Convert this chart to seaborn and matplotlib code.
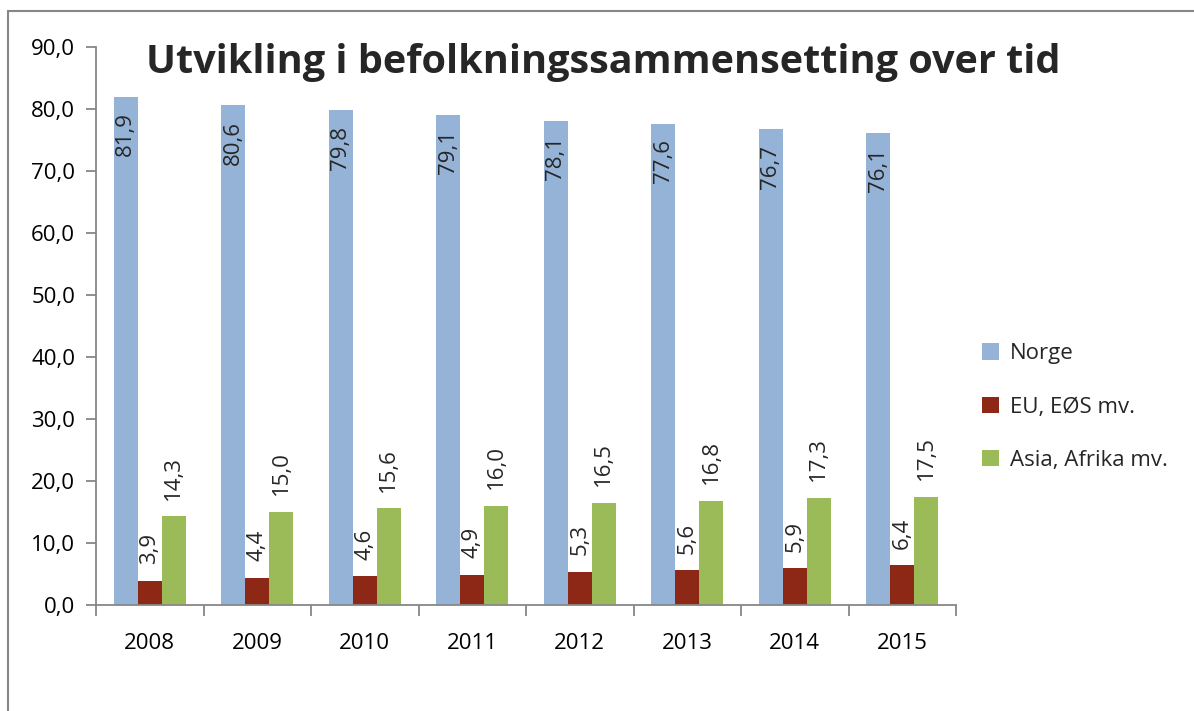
import pandas as pd
import matplotlib
matplotlib.use('Agg')
import matplotlib.pyplot as plt
import seaborn as sns
from matplotlib.lines import Line2D
from matplotlib.ticker import FuncFormatter, FixedLocator

# Data
YEARS = ['2008', '2009', '2010', '2011', '2012', '2013', '2014', '2015']
NORGE = [81.9, 80.6, 79.8, 79.1, 78.1, 77.6, 76.7, 76.1]
EU_EOS = [3.9, 4.4, 4.6, 4.9, 5.3, 5.6, 5.9, 6.4]
ASIA_AFRIKA = [14.3, 15.0, 15.6, 16.0, 16.5, 16.8, 17.3, 17.5]
SERIES = ['Norge', 'EU, EØS mv.', 'Asia, Afrika mv.']
TITLE = 'Utvikling i befolkningssammensetting over tid'

COLOR_PALETTE = {
    'Norge': '#95B3D7',
    'EU, EØS mv.': '#8E2816',
    'Asia, Afrika mv.': '#9BBB59',
}

W, H = 1194, 711
FONT_FAMILY = ['Open Sans', 'DejaVu Sans']
TICK_FONTSIZE = 16
LABEL_FONTSIZE = 16
LEGEND_FONTSIZE = 16
TITLE_FONTSIZE = 28.5
GRAY = '#878787'

sns.set_theme(style='white')
plt.rcParams['font.family'] = FONT_FAMILY


def fmt_num(v):
    return f'{v:.1f}'.replace('.', ',')


df = pd.DataFrame({
    'År': YEARS * 3,
    'Andel': NORGE + EU_EOS + ASIA_AFRIKA,
    'Gruppe': [s for s in SERIES for _ in YEARS],
})

fig = plt.figure(figsize=(W / 100, H / 100), dpi=100)
ax = fig.add_axes([96 / W, (H - 605) / H, (956 - 96) / W, (605 - 47) / H])

sns.barplot(data=df, x='År', y='Andel', hue='Gruppe', hue_order=SERIES,
            palette=COLOR_PALETTE, width=0.67, gap=0, saturation=1,
            edgecolor='none', ax=ax)

ax.set_ylim(0, 90)
ax.set_xlim(-0.5, len(YEARS) - 0.5)
ax.set_yticks(range(0, 91, 10))
ax.yaxis.set_major_formatter(FuncFormatter(lambda v, p: fmt_num(v)))
ax.set_xlabel('')
ax.set_ylabel('')

for side in ['top', 'right']:
    ax.spines[side].set_visible(False)
for side in ['left', 'bottom']:
    ax.spines[side].set_color(GRAY)
    ax.spines[side].set_linewidth(1.3)

ax.tick_params(axis='y', direction='out', length=7, width=1.3, color=GRAY,
               left=True, labelsize=TICK_FONTSIZE, pad=8, labelcolor='black')
ax.tick_params(axis='x', which='major', length=0, labelsize=TICK_FONTSIZE,
               pad=20, labelcolor='black')
ax.xaxis.set_minor_locator(FixedLocator([i - 0.5 for i in range(len(YEARS) + 1)]))
ax.tick_params(axis='x', which='minor', direction='out', length=8, width=1.3,
               color=GRAY, bottom=True)

# data labels
for container, name in zip(ax.containers, SERIES):
    for bar in container:
        v = bar.get_height()
        x = bar.get_x() + bar.get_width() / 2
        if name == 'Norge':
            ax.annotate(fmt_num(v), (x, v), xytext=(0, -11),
                        textcoords='offset points', rotation=90,
                        ha='center', va='top', fontsize=LABEL_FONTSIZE)
        else:
            ax.annotate(fmt_num(v), (x, v), xytext=(0, 12),
                        textcoords='offset points', rotation=90,
                        ha='center', va='bottom', fontsize=LABEL_FONTSIZE)

ax.legend(loc='center left', bbox_to_anchor=(962 / W, 1 - 407 / H),
          bbox_transform=fig.transFigure, frameon=False,
          fontsize=LEGEND_FONTSIZE, handlelength=0.75, handleheight=0.75,
          handletextpad=0.5, labelspacing=1.45)

fig.text(603 / W, 1 - 62 / H, TITLE, ha='center', va='center',
         fontsize=TITLE_FONTSIZE, fontweight='bold')

# chart frame (only the top and left edges are visible)
fig.add_artist(Line2D([8 / W, 1.0], [1 - 11 / H] * 2, color=GRAY, lw=1.5,
                      transform=fig.transFigure))
fig.add_artist(Line2D([8 / W] * 2, [0.0, 1 - 11 / H], color=GRAY, lw=1.5,
                      transform=fig.transFigure))

fig.savefig('out.png', dpi=100, facecolor='white')
